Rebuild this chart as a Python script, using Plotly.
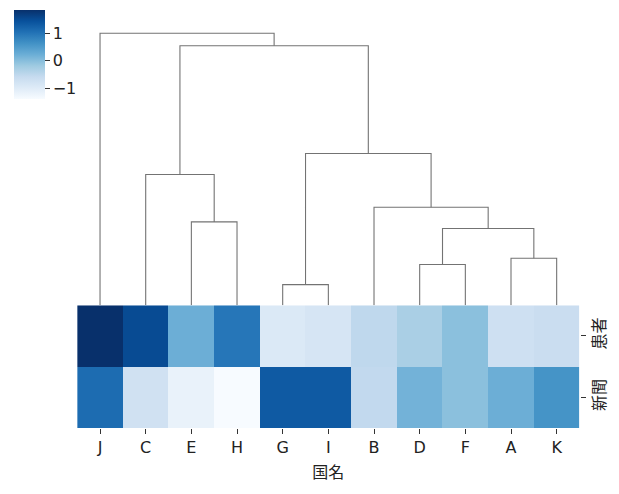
import plotly.graph_objects as go

# ---- data ----
countries = ["J", "C", "E", "H", "G", "I", "B", "D", "F", "A", "K"]  # leaf order
row_labels = ["患者", "新聞"]
patients = [1.85, 1.52, 0.22, 0.97, -0.95, -0.85, -0.52, -0.30, -0.03, -0.72, -0.65]
news = [1.10, -0.75, -1.17, -1.40, 1.33, 1.33, -0.55, 0.16, -0.03, 0.22, 0.60]

# linkage (cluster a, cluster b, merge height)
merge_a = ["G", "D", "A", "DF", "E", "B", "C", "GI", "CEH", "J"]
merge_b = ["I", "F", "K", "AK", "H", "DFAK", "EH", "BDFAK", "GIBDFAK", "CEHGIBDFAK"]
merge_h = [0.207, 0.407, 0.47, 0.767, 0.833, 0.98, 1.307, 1.517, 2.593, 2.717]

axis_title = "国名"
cbar_ticks = [-1, 0, 1]
cbar_ticktext = ["\u22121", "0", "1"]

blues = [
    [0.0, "#f7fbff"], [0.125, "#deebf7"], [0.25, "#c6dbef"], [0.375, "#9ecae1"],
    [0.5, "#6baed6"], [0.625, "#4292c6"], [0.75, "#2171b5"], [0.875, "#08519c"],
    [1.0, "#08306b"],
]

# ---- dendrogram coordinates ----
pos = {c: float(i) for i, c in enumerate(countries)}
hgt = {c: 0.0 for c in countries}
dx, dy = [], []
for a, b, h in zip(merge_a, merge_b, merge_h):
    xa, xb = pos[a], pos[b]
    dx += [xa, xa, xb, xb, None]
    dy += [hgt[a], h, h, hgt[b], None]
    pos[a + b] = (xa + xb) / 2
    hgt[a + b] = h

W, H = 619, 494
x0, x1 = 77.2 / W, 579.5 / W
hm_bot, hm_top = 1 - 428 / H, 1 - 305.3 / H
dn_top = 1 - 19.7 / H

font = "DejaVu Sans, Noto Sans CJK JP, sans-serif"
z = [patients, news]
zmin = min(min(patients), min(news))
zmax = max(max(patients), max(news))

fig = go.Figure()
fig.add_trace(go.Heatmap(
    z=z, x=list(range(len(countries))), y=row_labels,
    colorscale=blues, zmin=zmin, zmax=zmax, xgap=0, ygap=0,
    hoverinfo="skip",
    colorbar=dict(
        x=14.3 / W, xanchor="left", y=1 - 10 / H, yanchor="top",
        xpad=0, ypad=0,
        len=89.3 / H, lenmode="fraction", thickness=31, thicknessmode="pixels",
        outlinewidth=0, ticks="outside", ticklen=5, tickwidth=1, tickcolor="#333",
        tickvals=cbar_ticks, ticktext=cbar_ticktext,
        tickfont=dict(size=16, color="#222", family=font),
    ),
    xaxis="x", yaxis="y",
))
fig.add_trace(go.Scatter(
    x=dx, y=dy, mode="lines", line=dict(color="#737373", width=1.1),
    hoverinfo="skip", showlegend=False, xaxis="x2", yaxis="y2",
))

fig.update_layout(
    width=W, height=H, margin=dict(l=0, r=0, t=0, b=0),
    paper_bgcolor="white", plot_bgcolor="white",
    font=dict(family=font, color="#222"),
    showlegend=False,
    xaxis=dict(
        domain=[x0, x1], range=[-0.5, len(countries) - 0.5],
        tickvals=list(range(len(countries))), ticktext=countries,
        ticks="outside", ticklen=5, tickcolor="#333", tickwidth=1,
        showgrid=False, zeroline=False, showline=False,
        tickfont=dict(size=16, color="#222"),
        title=dict(text=axis_title, font=dict(size=16, color="#222"), standoff=10),
    ),
    yaxis=dict(
        domain=[hm_bot, hm_top], side="right", autorange="reversed",
        type="category", ticks="outside", ticklen=5, tickcolor="#333", tickwidth=1,
        tickangle=-90, showgrid=False, zeroline=False, showline=False,
        tickfont=dict(size=16, color="#222"),
    ),
    xaxis2=dict(
        domain=[x0, x1], range=[-0.5, len(countries) - 0.5], anchor="y2",
        visible=False,
    ),
    yaxis2=dict(
        domain=[hm_top, dn_top], range=[0, max(merge_h) * 1.05], anchor="x2",
        visible=False,
    ),
)

fig.write_html("out.html", config={"displayModeBar": False},
               post_script="document.body.style.margin='0';")
